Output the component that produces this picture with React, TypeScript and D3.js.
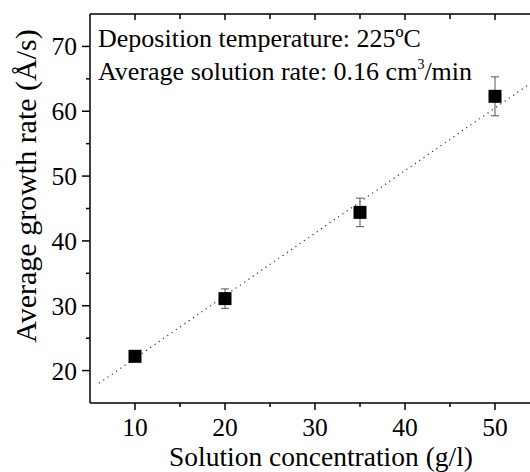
import React from "react";
import * as d3 from "d3";

const concentrations = [10, 20, 35, 50];
const growthRates = [22.2, 31.1, 44.4, 62.3];
const errors = [0.8, 1.5, 2.2, 3.0];
const fitSlope = 0.965;
const fitIntercept = 12.25;
const fitRange = [6, 56];
const xMajorTicks = [10, 20, 30, 40, 50];
const xMinorTicks = [15, 25, 35, 45];
const yMajorTicks = [20, 30, 40, 50, 60, 70];
const yMinorTicks = [25, 35, 45, 55, 65];

const W = 530, H = 472;
const M = { left: 90, top: 14, bottom: 403, right: 540 };
const FONT = "'Liberation Serif', 'Times New Roman', serif";

export default function App() {
  const x = d3.scaleLinear().domain([5, 55]).range([M.left, M.right]);
  const y = d3.scaleLinear().domain([15, 75]).range([M.bottom, M.top]);
  const fitLine = d3.line<number>().x((d) => x(d)).y((d) => y(fitSlope * d + fitIntercept));
  const sq = 13;
  const cap = 4;
  return (
    <svg width={W} height={H} style={{ position: "absolute", left: 0, top: 0, background: "#fff" }} fontFamily={FONT}>
      <rect width={W} height={H} fill="#fff" />
      {/* fit line */}
      <path d={fitLine(fitRange) || ""} stroke="#333" strokeWidth={1.2} strokeDasharray="1.2,4" fill="none" />
      {/* error bars */}
      {concentrations.map((c, i) => (
        <g key={"e" + i} stroke="#555" strokeWidth={1}>
          <line x1={x(c)} x2={x(c)} y1={y(growthRates[i] - errors[i])} y2={y(growthRates[i] + errors[i])} />
          <line x1={x(c) - cap} x2={x(c) + cap} y1={y(growthRates[i] - errors[i])} y2={y(growthRates[i] - errors[i])} />
          <line x1={x(c) - cap} x2={x(c) + cap} y1={y(growthRates[i] + errors[i])} y2={y(growthRates[i] + errors[i])} />
        </g>
      ))}
      {/* points */}
      {concentrations.map((c, i) => (
        <rect key={"p" + i} x={x(c) - sq / 2} y={y(growthRates[i]) - sq / 2} width={sq} height={sq} fill="#000" />
      ))}
      {/* axes */}
      <g stroke="#000" strokeWidth={1.5}>
        <line x1={M.left} x2={M.left} y1={M.top} y2={M.bottom} />
        <line x1={M.left} x2={M.right} y1={M.bottom} y2={M.bottom} />
        <line x1={M.left} x2={M.right} y1={M.top} y2={M.top} />
        {xMajorTicks.map((t) => (
          <g key={"xm" + t}>
            <line x1={x(t)} x2={x(t)} y1={M.bottom} y2={M.bottom + 7} />
            <line x1={x(t)} x2={x(t)} y1={M.top} y2={M.top + 6} />
          </g>
        ))}
        {xMinorTicks.map((t) => (
          <g key={"xn" + t}>
            <line x1={x(t)} x2={x(t)} y1={M.bottom} y2={M.bottom + 4} />
            <line x1={x(t)} x2={x(t)} y1={M.top} y2={M.top + 5} />
          </g>
        ))}
        {yMajorTicks.map((t) => (
          <line key={"ym" + t} x1={M.left - 8} x2={M.left} y1={y(t)} y2={y(t)} />
        ))}
        {yMinorTicks.map((t) => (
          <line key={"yn" + t} x1={M.left - 4} x2={M.left} y1={y(t)} y2={y(t)} />
        ))}
      </g>
      {/* tick labels */}
      <g fontSize={25.5} fill="#000">
        {xMajorTicks.map((t) => (
          <text key={"xl" + t} x={x(t)} y={436} textAnchor="middle">{t}</text>
        ))}
        {yMajorTicks.map((t) => (
          <text key={"yl" + t} x={77} y={y(t) + 9} textAnchor="end">{t}</text>
        ))}
      </g>
      {/* axis titles */}
      <text x={321} y={465.5} textAnchor="middle" fontSize={27.5}>Solution concentration (g/l)</text>
      <text transform={`translate(36,186) rotate(-90)`} textAnchor="middle" fontSize={30}>Average growth rate (Å/s)</text>
      {/* annotations */}
      <text x={98} y={47} fontSize={26}>Deposition temperature: 225ºC</text>
      <text x={98} y={80} fontSize={26}>
        Average solution rate: 0.16 cm<tspan dy={-11} fontSize={14}>3</tspan><tspan dy={11}>/min</tspan>
      </text>
    </svg>
  );
}
